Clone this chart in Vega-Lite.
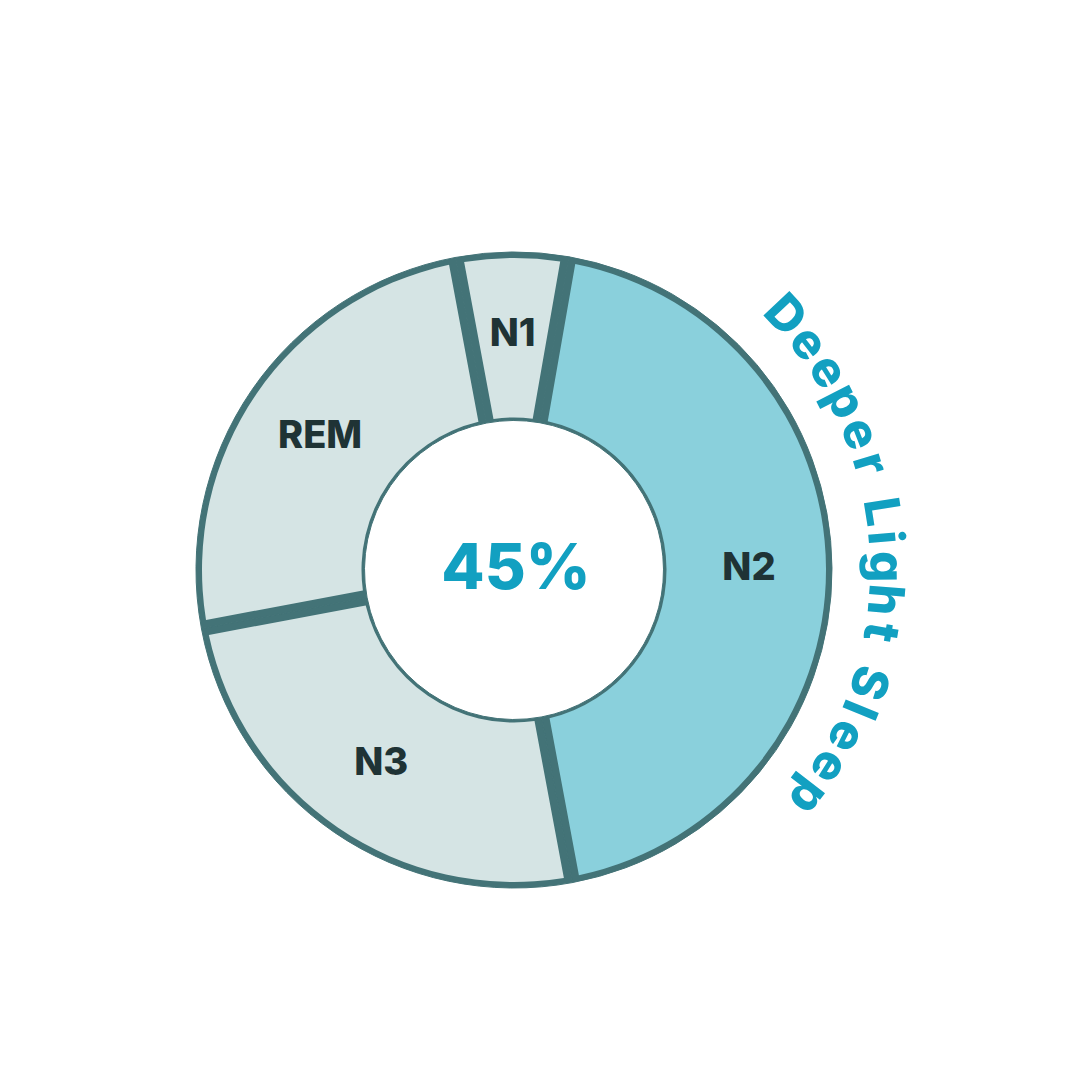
{
  "$schema": "https://vega.github.io/schema/vega-lite/v6.json",
  "width": 1028,
  "height": 1020,
  "autosize": {"type": "none"},
  "padding": {"left": 0, "top": 60, "right": 52, "bottom": 0},
  "background": "white",
  "config": {"view": {"stroke": null}},
  "datasets": {
    "stages": [
      {"stage": "N1", "value": 5.7, "ord": 1, "deep": "no"},
      {"stage": "N2", "value": 44.3, "ord": 2, "deep": "yes"},
      {"stage": "N3", "value": 25, "ord": 3, "deep": "no"},
      {"stage": "REM", "value": 25, "ord": 4, "deep": "no"}
    ],
    "letters": [
      {"ch": "D", "deg": 46.8},
      {"ch": "e", "deg": 52.4},
      {"ch": "e", "deg": 57.7},
      {"ch": "p", "deg": 63.0},
      {"ch": "e", "deg": 68.5},
      {"ch": "r", "deg": 73.4},
      {"ch": "L", "deg": 81.0},
      {"ch": "i", "deg": 85.0},
      {"ch": "g", "deg": 89.5},
      {"ch": "h", "deg": 94.6},
      {"ch": "t", "deg": 99.6},
      {"ch": "S", "deg": 107.6},
      {"ch": "l", "deg": 112.0},
      {"ch": "e", "deg": 116.6},
      {"ch": "e", "deg": 122.0},
      {"ch": "p", "deg": 127.6}
    ],
    "center": [{"label": "45%"}]
  },
  "resolve": {"scale": {"theta": "independent", "color": "independent"}},
  "layer": [
    {
      "data": {"name": "stages"},
      "mark": {"type": "arc", "innerRadius": 149.5, "outerRadius": 318, "fill": "#437377", "stroke": "#437377", "strokeWidth": 1},
      "encoding": {
        "theta": {"field": "value", "type": "quantitative", "stack": true, "scale": {"domain": [0, 100], "range": [-0.185, 6.098]}},
        "order": {"field": "ord", "type": "quantitative"}
      }
    },
    {
      "data": {"name": "stages"},
      "mark": {"type": "arc", "innerRadius": 152.5, "outerRadius": 312, "padAngle": 0.044},
      "encoding": {
        "theta": {"field": "value", "type": "quantitative", "stack": true, "scale": {"domain": [0, 100], "range": [-0.185, 6.098]}},
        "order": {"field": "ord", "type": "quantitative"},
        "color": {"field": "deep", "type": "nominal", "legend": null, "scale": {"domain": ["no", "yes"], "range": ["#d5e4e4", "#8ad0dc"]}}
      }
    },
    {
      "data": {"name": "stages"},
      "mark": {"type": "text", "radius": 235, "font": "Inter", "fontWeight": 800, "fontSize": 38, "fill": "#1f3335", "align": "center", "baseline": "middle"},
      "encoding": {
        "theta": {"field": "value", "type": "quantitative", "stack": true, "scale": {"domain": [0, 100], "range": [-0.185, 6.098]}},
        "order": {"field": "ord", "type": "quantitative"},
        "text": {"field": "stage", "type": "nominal"}
      }
    },
    {
      "data": {"name": "letters"},
      "mark": {"type": "text", "radius": 356, "font": "Inter", "fontWeight": 800, "fontSize": 49, "fill": "#12a0c1", "align": "center", "baseline": "alphabetic"},
      "encoding": {
        "theta": {"field": "deg", "type": "quantitative", "stack": false, "scale": {"domain": [0, 360], "range": [0, 6.283185]}},
        "angle": {"field": "deg", "type": "quantitative", "scale": {"domain": [0, 360], "range": [0, 360]}},
        "text": {"field": "ch", "type": "nominal"}
      }
    },
    {
      "data": {"name": "center"},
      "mark": {"type": "text", "font": "Inter", "fontWeight": 800, "fontSize": 63, "fill": "#12a0c1", "align": "center", "baseline": "middle", "dx": 2},
      "encoding": {
        "text": {"field": "label", "type": "nominal"}
      }
    }
  ]
}
